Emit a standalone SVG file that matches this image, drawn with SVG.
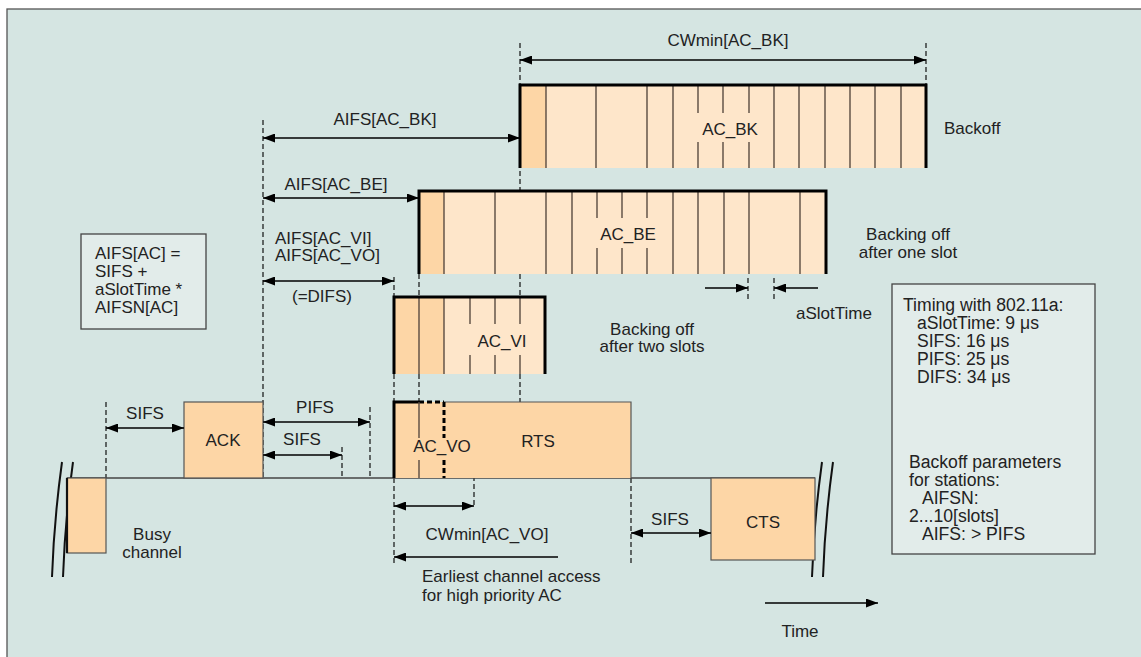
<svg xmlns="http://www.w3.org/2000/svg" width="1141" height="657" viewBox="0 0 1141 657">
<defs>
<style>
.t{font-family:"Liberation Sans",Arial,sans-serif;font-size:17px;fill:#222}
.b{font-size:17.6px}
.m{text-anchor:middle}
.dash{stroke:#111;stroke-width:1.2;stroke-dasharray:5,3;fill:none}
.slot{stroke:#5a4c42;stroke-width:1.4;fill:none}
.thick{stroke:#000;stroke-width:3;fill:none}
.arr{stroke:#000;stroke-width:1.3;fill:none}
.dk{fill:#fdd6a6}
.lt{fill:#fee6ca}
.box{fill:#e2ecea;stroke:#444;stroke-width:1.3}
</style>
<marker id="ah" viewBox="0 0 12 9" refX="12" refY="4.5" markerWidth="12" markerHeight="9" markerUnits="userSpaceOnUse" orient="auto-start-reverse">
<path d="M0,0 L12,4.5 L0,9 Z" fill="#000"/>
</marker>
</defs>
<rect x="0" y="0" width="1141" height="657" fill="#fff"/>
<rect x="7" y="9" width="1140" height="660" fill="#d5e5e2" stroke="#555" stroke-width="1.3"/>

<g id="guides">
<path class="dash" d="M263,120 V478 M520,43 V191 M520,274 V297 M520,374 V402 M926,43 V85 M394,277 V297 M394,374 V402 M394,478 V563 M419,274 V297 M419,374 V402 M748,278 V302 M774,278 V302 M106,402 V478 M370,407 V478 M342,447 V478 M474,476 V507 M631,478 V563"/>
</g>

<g id="timeline">
<path d="M67,478 H815" stroke="#444" stroke-width="1.4" fill="none"/>
<path d="M62,462 Q54,520 52,577 M73,462 Q65,520 63,577" stroke="#111" stroke-width="2" fill="none"/>
<path d="M822,462 Q814,520 812,577 M833,462 Q825,520 823,577" stroke="#111" stroke-width="2" fill="none"/>
</g>

<g id="ac_bk">
<rect class="dk" x="520" y="85" width="26" height="83"/>
<rect class="lt" x="546" y="85" width="380" height="83"/>
<path class="slot" d="M546,85 V168 M596,85 V168 M647,85 V168 M673,85 V168 M774,85 V168 M799,85 V168 M825,85 V168 M850,85 V168 M875,85 V168 M901,85 V168 M698,85 V113 M723,85 V113 M749,85 V113 M698,142 V168 M723,142 V168 M749,142 V168"/>
<path class="thick" d="M520,168 V85 H926 V168"/>
<text class="t m" x="730" y="135">AC_BK</text>
</g>

<g id="ac_be">
<rect class="dk" x="419" y="191" width="25" height="83"/>
<rect class="lt" x="444" y="191" width="382" height="83"/>
<path class="slot" d="M444,191 V274 M495,191 V274 M546,191 V274 M572,191 V274 M673,191 V274 M698,191 V274 M724,191 V274 M749,191 V274 M800,191 V274 M597,191 V218 M622,191 V218 M647,191 V218 M597,248 V274 M622,248 V274 M647,248 V274"/>
<path class="thick" d="M419,274 V191 H826 V274"/>
<text class="t m" x="628" y="240">AC_BE</text>
</g>

<g id="ac_vi">
<rect class="dk" x="394" y="297" width="50" height="77"/>
<rect class="lt" x="444" y="297" width="101" height="77"/>
<path class="slot" d="M419,297 V374 M444,297 V374 M470,297 V324 M495,297 V324 M520,297 V324 M470,355 V374 M495,355 V374 M520,355 V374"/>
<path class="thick" d="M394,374 V297 H545 V374"/>
<text class="t m" x="502" y="347">AC_VI</text>
</g>

<g id="rts">
<rect class="dk" x="394" y="402" width="237" height="76" />
<path d="M444,402 H631 V478" stroke="#555" stroke-width="1.2" fill="none"/>
<path class="thick" d="M394,478 V402 H419"/>
<path d="M419,402 H444 M444,402 V438 M444,460 V478" stroke="#000" stroke-width="3" stroke-dasharray="5,3" fill="none"/>
<path class="slot" d="M419,402 V438 M419,460 V478"/>
<text class="t m" x="442" y="452">AC_VO</text>
<text class="t m" x="538" y="447">RTS</text>
</g>

<g id="busy">
<rect class="dk" x="67" y="478" width="39" height="75" stroke="#555" stroke-width="1.2"/>
<path d="M67,478 V553" stroke="#111" stroke-width="2.2"/>
<text class="t m" x="152" y="540">Busy</text>
<text class="t m" x="152" y="558">channel</text>
</g>

<g id="ack">
<rect class="dk" x="184" y="402" width="79" height="76" stroke="#555" stroke-width="1.2"/>
<text class="t m" x="223" y="446">ACK</text>
</g>

<g id="cts">
<rect class="dk" x="711" y="478" width="104" height="82" stroke="#555" stroke-width="1.2"/>
<text class="t m" x="763" y="528">CTS</text>
</g>

<g id="formula">
<rect class="box" x="81" y="234" width="125" height="95"/>
<text class="t" x="95" y="259">AIFS[AC] =</text>
<text class="t" x="95" y="277">SIFS +</text>
<text class="t" x="95" y="295">aSlotTime *</text>
<text class="t" x="95" y="313">AIFSN[AC]</text>
</g>

<g id="timing">
<rect class="box" x="892" y="284" width="203" height="270"/>
<text class="t b" x="903" y="311">Timing with 802.11a:</text>
<text class="t b" x="917" y="329">aSlotTime: 9 μs</text>
<text class="t b" x="917" y="347">SIFS: 16 μs</text>
<text class="t b" x="917" y="365">PIFS: 25 μs</text>
<text class="t b" x="917" y="383">DIFS: 34 μs</text>
<text class="t b" x="909" y="468">Backoff parameters</text>
<text class="t b" x="909" y="486">for stations:</text>
<text class="t b" x="922" y="504">AIFSN:</text>
<text class="t b" x="909" y="522">2...10[slots]</text>
<text class="t b" x="922" y="540">AIFS: &gt; PIFS</text>
</g>

<g id="connectors">
<path class="arr" marker-start="url(#ah)" marker-end="url(#ah)" d="M520,60 H926"/>
<path class="arr" marker-start="url(#ah)" marker-end="url(#ah)" d="M263,138 H520"/>
<path class="arr" marker-start="url(#ah)" marker-end="url(#ah)" d="M263,198 H419"/>
<path class="arr" marker-start="url(#ah)" marker-end="url(#ah)" d="M263,281 H394"/>
<path class="arr" marker-end="url(#ah)" d="M705,288 H748"/>
<path class="arr" marker-end="url(#ah)" d="M818,288 H774"/>
<path class="arr" marker-start="url(#ah)" marker-end="url(#ah)" d="M106,428 H184"/>
<path class="arr" marker-start="url(#ah)" marker-end="url(#ah)" d="M263,422 H370"/>
<path class="arr" marker-start="url(#ah)" marker-end="url(#ah)" d="M263,455 H342"/>
<path class="arr" marker-start="url(#ah)" marker-end="url(#ah)" d="M394,506 H474"/>
<path class="arr" marker-end="url(#ah)" d="M558,557 H394"/>
<path class="arr" marker-start="url(#ah)" marker-end="url(#ah)" d="M631,533 H711"/>
<path class="arr" marker-end="url(#ah)" d="M765,603 H878"/>
</g>

<g id="labels">
<text class="t m" x="728" y="46">CWmin[AC_BK]</text>
<text class="t m" x="385" y="125">AIFS[AC_BK]</text>
<text class="t m" x="336" y="190">AIFS[AC_BE]</text>
<text class="t" x="275" y="244">AIFS[AC_VI]</text>
<text class="t" x="275" y="261">AIFS[AC_VO]</text>
<text class="t m" x="322" y="302">(=DIFS)</text>
<text class="t" x="944" y="134">Backoff</text>
<text class="t m" x="908" y="240">Backing off</text>
<text class="t m" x="908" y="258">after one slot</text>
<text class="t m" x="652" y="335">Backing off</text>
<text class="t m" x="652" y="352">after two slots</text>
<text class="t m" x="834" y="319">aSlotTime</text>
<text class="t m" x="145" y="419">SIFS</text>
<text class="t m" x="315" y="413">PIFS</text>
<text class="t m" x="302" y="445">SIFS</text>
<text class="t m" x="487" y="540">CWmin[AC_VO]</text>
<text class="t" x="422" y="582">Earliest channel access</text>
<text class="t" x="422" y="601">for high priority AC</text>
<text class="t m" x="670" y="525">SIFS</text>
<text class="t m" x="800" y="637">Time</text>
</g>
</svg>
